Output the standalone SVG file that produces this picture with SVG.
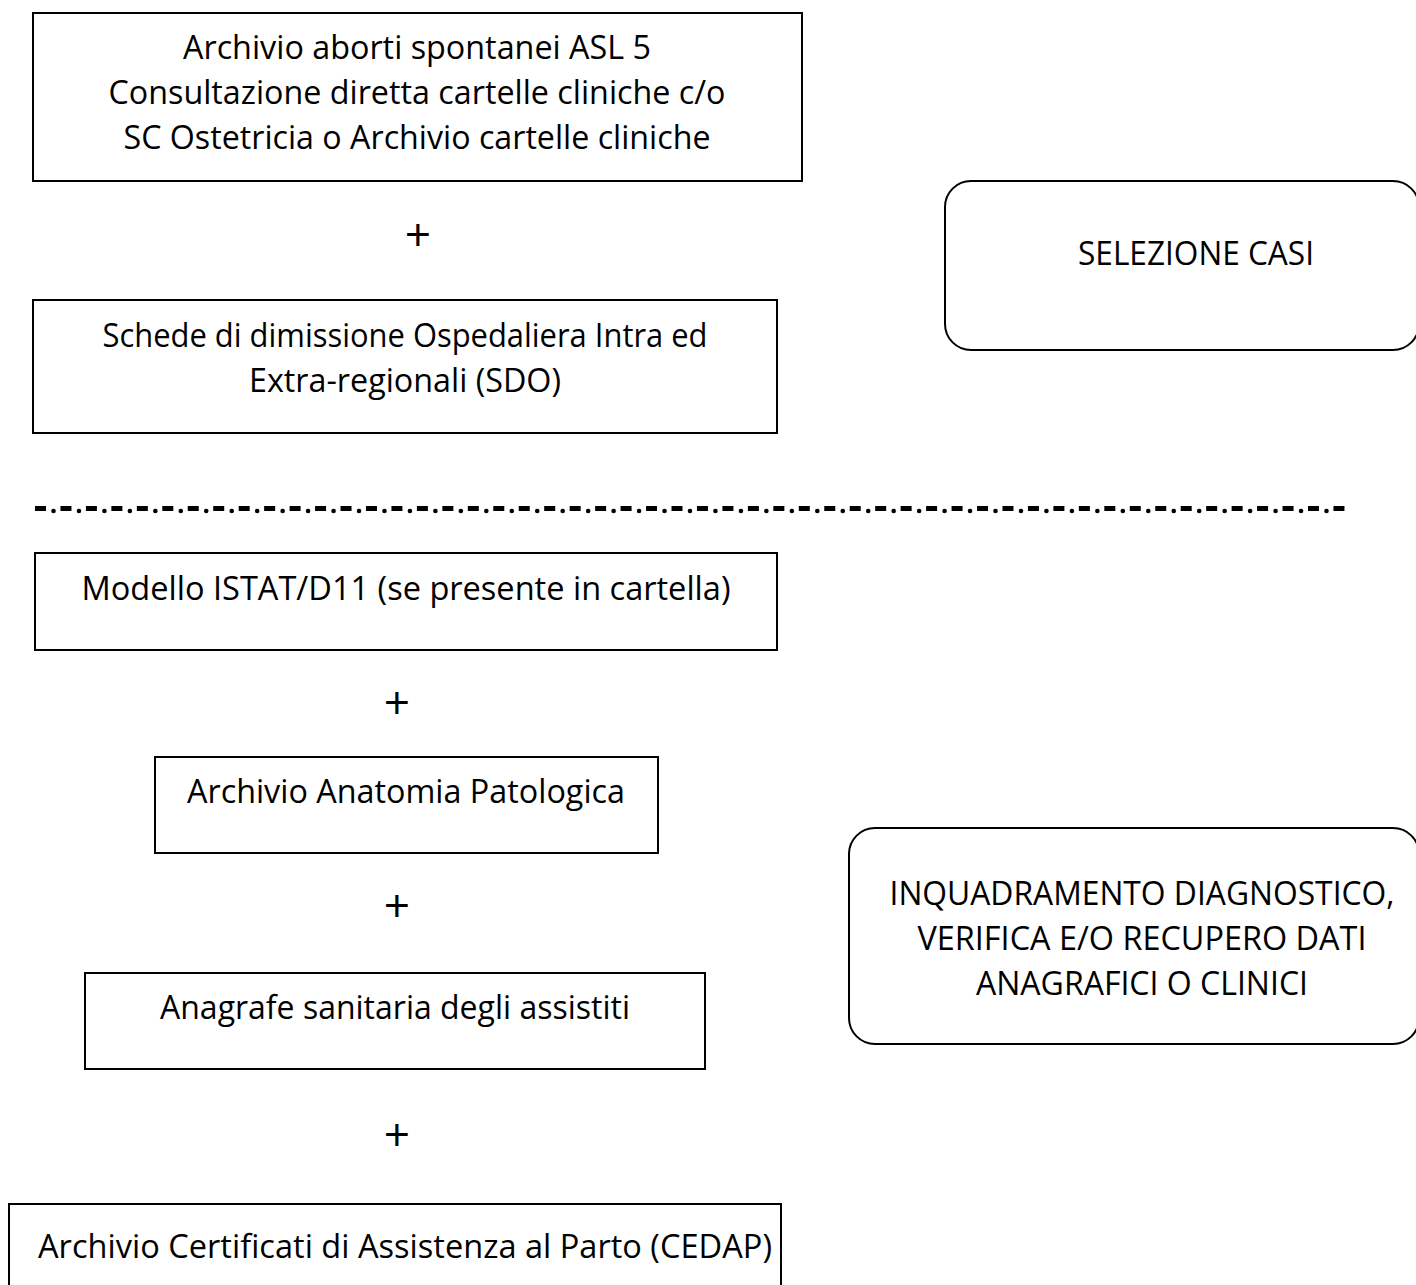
<svg xmlns="http://www.w3.org/2000/svg" width="1416" height="1285" viewBox="0 0 1416 1285">
<style>
.bx{fill:#fff;stroke:#000;stroke-width:2}
.t{font-family:"Open Sans","Noto Sans","Liberation Sans",sans-serif;font-size:33px;fill:#000;text-anchor:middle}
.p{font-family:"Open Sans","Noto Sans","Liberation Sans",sans-serif;font-size:46px;fill:#000;text-anchor:middle}
</style>
<rect width="1416" height="1285" fill="#fff"/>
<g id="box-archivio-aborti">
<rect class="bx" x="33" y="13" width="769" height="168"/>
<text class="t" x="417" y="59" textLength="468" lengthAdjust="spacingAndGlyphs">Archivio aborti spontanei ASL 5</text>
<text class="t" x="417" y="104" textLength="617" lengthAdjust="spacingAndGlyphs">Consultazione diretta cartelle cliniche c/o</text>
<text class="t" x="417" y="149" textLength="587" lengthAdjust="spacingAndGlyphs">SC Ostetricia o Archivio cartelle cliniche</text>
</g>
<g id="plus-1"><text class="p" x="418" y="251">+</text></g>
<g id="box-sdo">
<rect class="bx" x="33" y="300" width="744" height="133"/>
<text class="t" x="405" y="347" textLength="605" lengthAdjust="spacingAndGlyphs">Schede di dimissione Ospedaliera Intra ed</text>
<text class="t" x="405" y="392" textLength="312" lengthAdjust="spacingAndGlyphs">Extra-regionali (SDO)</text>
</g>
<g id="box-selezione">
<rect class="bx" x="945" y="181" width="474" height="169" rx="26" ry="26"/>
<text class="t" x="1196" y="265" textLength="236" lengthAdjust="spacingAndGlyphs">SELEZIONE CASI</text>
</g>
<g id="separator">
<line x1="35" y1="508.5" x2="1345" y2="508.5" stroke="#000" stroke-width="5" stroke-dasharray="11 14.46"/>
<line x1="53.5" y1="511" x2="1327" y2="511" stroke="#000" stroke-width="4.6" stroke-linecap="round" stroke-dasharray="0 25.46"/>
</g>
<g id="box-istat">
<rect class="bx" x="35" y="553" width="742" height="97"/>
<text class="t" x="406" y="600" textLength="649" lengthAdjust="spacingAndGlyphs">Modello ISTAT/D11 (se presente in cartella)</text>
</g>
<g id="plus-2"><text class="p" x="397" y="719">+</text></g>
<g id="box-anatomia">
<rect class="bx" x="155" y="757" width="503" height="96"/>
<text class="t" x="406" y="803" textLength="438" lengthAdjust="spacingAndGlyphs">Archivio Anatomia Patologica</text>
</g>
<g id="plus-3"><text class="p" x="397" y="922">+</text></g>
<g id="box-anagrafe">
<rect class="bx" x="85" y="973" width="620" height="96"/>
<text class="t" x="395" y="1019" textLength="470" lengthAdjust="spacingAndGlyphs">Anagrafe sanitaria degli assistiti</text>
</g>
<g id="plus-4"><text class="p" x="397" y="1151">+</text></g>
<g id="box-cedap">
<rect class="bx" x="9" y="1204" width="772" height="100"/>
<text class="t" x="405" y="1258" textLength="734" lengthAdjust="spacingAndGlyphs">Archivio Certificati di Assistenza al Parto (CEDAP)</text>
</g>
<g id="box-inquadramento">
<rect class="bx" x="849" y="828" width="570" height="216" rx="26" ry="26"/>
<text class="t" x="1142" y="905" textLength="505" lengthAdjust="spacingAndGlyphs">INQUADRAMENTO DIAGNOSTICO,</text>
<text class="t" x="1142" y="950" textLength="449" lengthAdjust="spacingAndGlyphs">VERIFICA E/O RECUPERO DATI</text>
<text class="t" x="1142" y="995" textLength="332" lengthAdjust="spacingAndGlyphs">ANAGRAFICI O CLINICI</text>
</g>
<g id="connectors"></g>
</svg>
